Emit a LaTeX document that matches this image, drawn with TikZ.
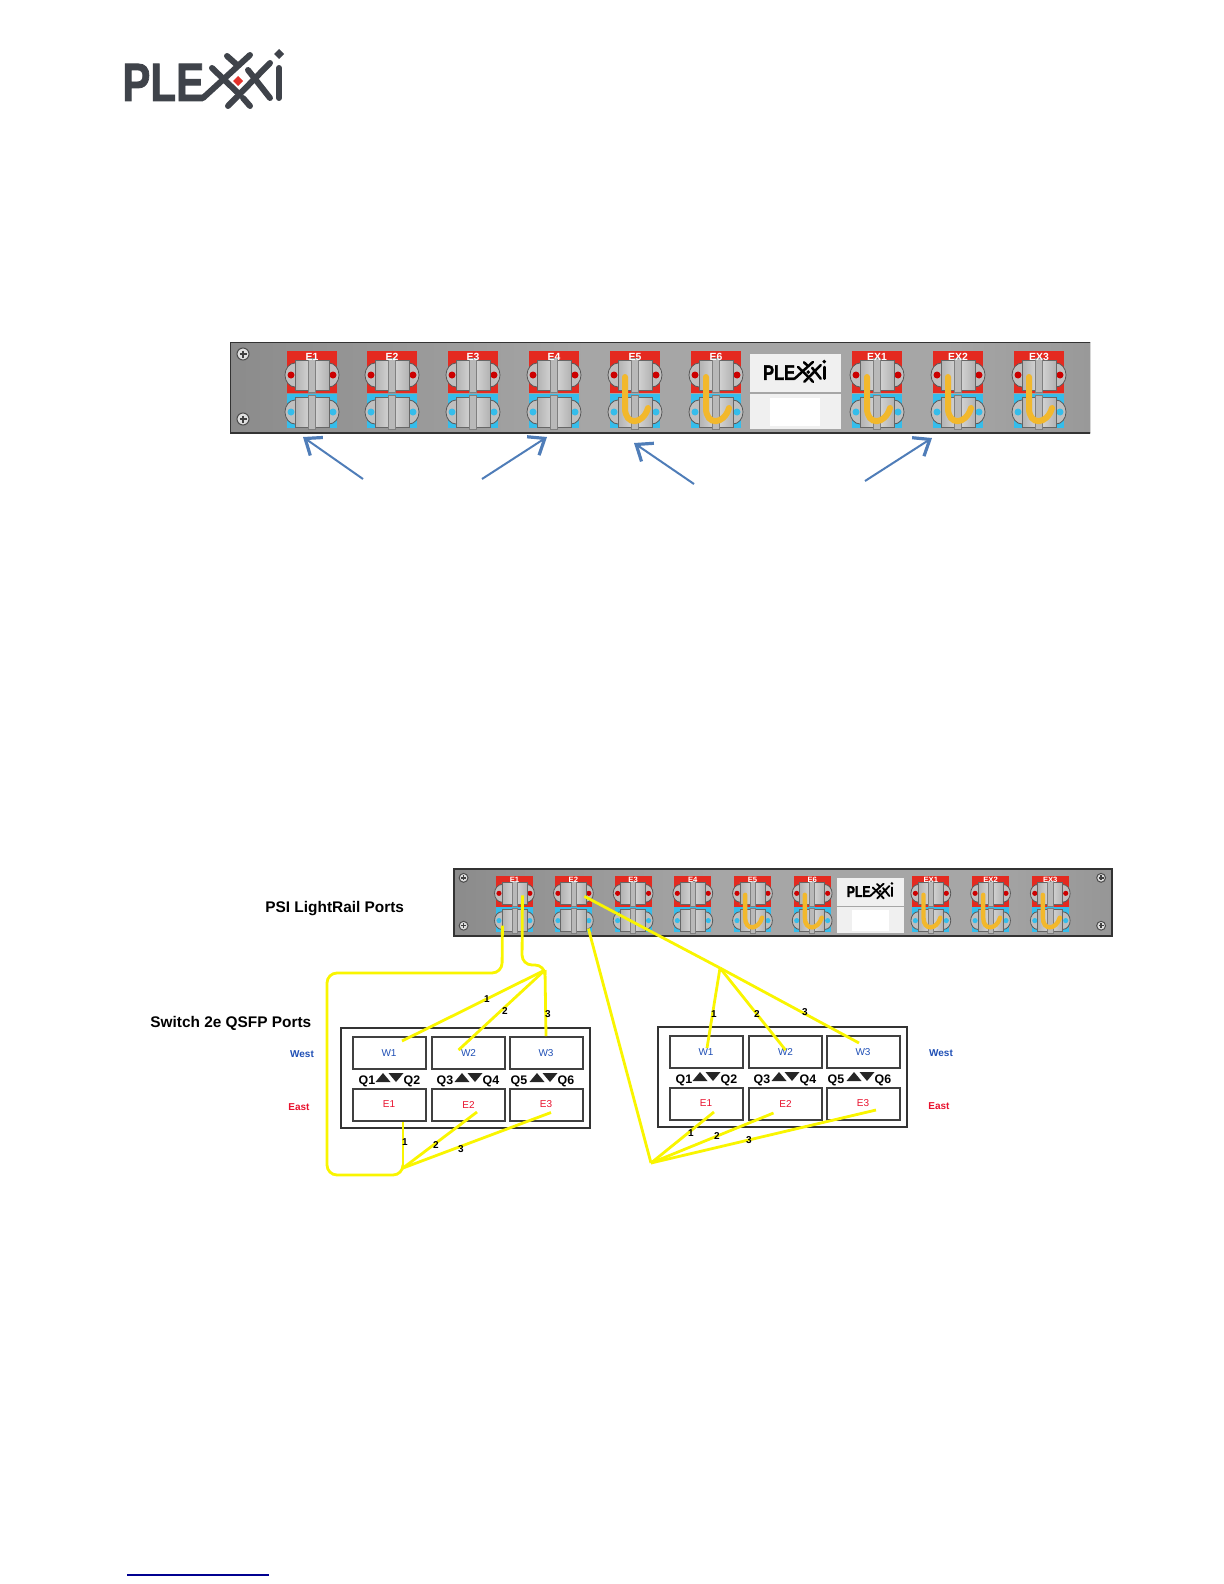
\documentclass[tikz,border=0pt]{standalone}
\usepackage{fontspec}
\setmainfont{Liberation Sans}
\newfontfamily\logofont[FakeBold=1.6]{Liberation Sans Bold}
\usetikzlibrary{arrows.meta}
\definecolor{logogray}{HTML}{3F434A}
\definecolor{logored}{HTML}{E5322B}
\definecolor{portred}{HTML}{E42A20}
\definecolor{portblue}{HTML}{35BDEB}
\definecolor{cableorange}{HTML}{F2B82C}
\definecolor{arrowblue}{HTML}{4F7DB8}
\definecolor{linkyellow}{HTML}{F9F500}
\definecolor{westblue}{HTML}{1F4FB5}
\definecolor{eastred}{HTML}{E8112D}
\definecolor{notenavy}{HTML}{000090}
\definecolor{railedge}{HTML}{5C5C5C}
\definecolor{railside}{HTML}{7A7A7A}
\definecolor{railmid}{HTML}{A6A6A6}
\definecolor{railend}{HTML}{6E6E6E}
\pgfdeclarehorizontalshading{railsteel}{100bp}{color(0bp)=(railedge); color(12bp)=(railside); color(45bp)=(railmid); color(65bp)=(railmid); color(100bp)=(railend)}
\tikzset{
    every pic/.style={transform shape},
    logostroke/.style={draw=logogray,line width=3pt,line cap=round},
    logomark/.style={fill=logored},
    logodot/.style={fill=logogray},
    logotext/.style={text=logogray},
    plexxilogo/.pic={
        \node[logotext,transform shape,xscale=0.78,anchor=base west,inner sep=0pt,font=\logofont\fontsize{27}{27}\selectfont] (word) at (0,51) {PLE};
        \draw[logostroke] (81,48)--(128,5);
        \draw[logostroke] (106,56)--(148,13);
        \draw[logostroke] (105,6)--(114,14);
        \draw[logostroke] (90,18)--(115,42);
        \draw[logostroke] (126,20)--(148,48);
        \draw[logostroke] (121,48)--(128,56);
        \draw[logostroke] (157,18)--(157,48);
        \fill[logomark] (116,26)--(121,31)--(116,36)--(111,31)--cycle;
        \fill[logodot] (157,-1)--(162,4)--(157,9)--(152,4)--cycle;
    },
    railscrew/.pic={
        \draw[fill=gray!25,draw=black!70,line width=0.5pt] (0,0) circle (6);
        \draw[black!75,line width=0.7pt] (-3.5,0)--(3.5,0) (0,-3.5)--(0,3.5);
    },
    fibersocket/.pic={
        \draw[fill=gray!50,draw=black!65,line width=0.4pt] (-17,0) ellipse [x radius=10,y radius=12];
        \draw[fill=gray!50,draw=black!65,line width=0.4pt] (17,0) ellipse [x radius=10,y radius=12];
        \fill[#1] (-21,0) circle (3.5);
        \fill[#1] (21,0) circle (3.5);
        \draw[left color=gray!60,right color=gray!60,middle color=gray!30,draw=black!60,line width=0.4pt] (-17,-15) rectangle (17,15);
        \draw[fill=gray!55,draw=black!50,line width=0.3pt] (-3.5,-17) rectangle (3.5,17);
    },
    lightrail/.pic={
        \fill[shading=railsteel,draw=black!80,line width=1pt] (0,0) rectangle (893,91);
        \foreach \sx/\sy in {13/12,13/77,878/12,878/77} {
            \pic at (\sx,\sy) {railscrew};
        }
        \foreach \px/\lab in {82/E1,162/E2,243/E3,324/E4,405/E5,486/E6,647/EX1,728/EX2,809/EX3} {
            \fill[portred] (\px-25,9) rectangle (\px+25,51);
            \fill[portblue] (\px-25,52) rectangle (\px+25,86);
            \pic at (\px,33) {fibersocket=red!80!black};
            \pic at (\px,70) {fibersocket=portblue};
            \coordinate (\lab up) at (\px,33);
            \coordinate (\lab low) at (\px,70);
            \node[portname] (\lab) at (\px,15) {\lab};
        }
        \foreach \px in {405,486,647,728,809} {
            \draw[cableorange,line width=#1pt,line cap=round] (\px-10,35)--(\px-10,66) .. controls (\px-10,84) and (\px+8,83) .. (\px+13,66);
        }
        \fill[gray!12] (520,12) rectangle (611,50);
        \fill[gray!12] (520,52) rectangle (611,87);
        \fill[white] (540,56) rectangle (590,84);
        \begin{scope}[shift={(533,18)},scale=0.39,logostroke/.append style={draw=black,line width=#1*0.42pt},logomark/.style={fill=black},logodot/.style={fill=black},logotext/.style={text=black}]
            \pic {plexxilogo};
        \end{scope}
    },
    portname/.style={transform shape,text=white,inner sep=0pt,font=\bfseries\fontsize{5.2}{6}\selectfont},
    portbox/.style={draw=black!75,line width=1pt,minimum width=36.5pt,minimum height=16pt,inner sep=0pt,font=\fontsize{5}{6}\selectfont},
    qlabel/.style={inner sep=0pt,font=\bfseries\fontsize{6.2}{7}\selectfont},
    sidelabel/.style={inner sep=0pt,font=\bfseries\fontsize{5}{6}\selectfont},
    headlabel/.style={inner sep=0pt,anchor=west,font=\bfseries\fontsize{7.7}{9}\selectfont},
    linknum/.style={inner sep=0pt,font=\bfseries\fontsize{5}{6}\selectfont},
    link/.style={linkyellow,line width=1.4pt},
    callout/.style={arrowblue,line width=1pt,-{Straight Barb[length=7pt,width=11pt,line width=1.6pt]}},
    qsfpbox/.pic={
        \draw[draw=black!80,line width=1pt] (341,1028) rectangle (590,1128);
        \foreach \qx/\qn in {389/1,468.5/2,546/3} {
            \node[portbox,text=westblue] (W\qn) at (\qx,1053) {\raisebox{-0.75pt}{W\qn}};
            \node[portbox,text=eastred] (E\qn) at (\qx,1104.5) {\raisebox{-0.75pt}{E\qn}};
        }
        \foreach \qx/\qn in {367/Q1,412/Q2,445/Q3,491/Q4,519/Q5,566/Q6} {
            \node[qlabel] (\qn) at (\qx,1081) {\qn};
        }
        \foreach \qx in {383,462,537} {
            \fill[black!85] (\qx-7.5,1082)--(\qx+7.5,1082)--(\qx,1073)--cycle;
            \fill[black!85] (\qx+5.5,1073)--(\qx+20.5,1073)--(\qx+13,1082)--cycle;
        }
    }
}
\begin{document}
\begin{tikzpicture}[x=0.5pt,y=-0.5pt]
    \useasboundingbox (0,0) rectangle (1224,1584);
    \pic at (122,50) {plexxilogo};

    \begin{scope}
        \clip (230,342) rectangle (1090,433);
        \pic (top) at (230,342) {lightrail=3};
    \end{scope}
    \coordinate (tail1) at (363,479);
    \coordinate (tip1) at (303,437);
    \coordinate (tail2) at (482,479);
    \coordinate (tip2) at (547,437);
    \coordinate (tail3) at (694,484);
    \coordinate (tip3) at (634,443);
    \coordinate (tail4) at (865,481);
    \coordinate (tip4) at (932,438);
    \foreach \an in {1,2,3,4} {
        \draw[callout] (tail\an)--(tip\an);
    }

    \pic[scale=0.737] (bot) at (454,869) {lightrail=2.2};
    \node[headlabel] (psi) at (265,909) {PSI LightRail Ports};
    \node[headlabel] (sw) at (150,1023) {Switch 2e QSFP Ports};

    \pic (left) at (0,0) {qsfpbox};
    \pic (right) at (317,-1) {qsfpbox};
    \node[sidelabel,text=westblue] (westL) at (302,1054) {West};
    \node[sidelabel,text=eastred] (eastL) at (299,1107) {East};
    \node[sidelabel,text=westblue] (westR) at (941,1053) {West};
    \node[sidelabel,text=eastred] (eastR) at (939,1106) {East};

    \coordinate (hubLW) at (545,970);
    \coordinate (hubLE) at (403,1168);
    \coordinate (hubRW) at (720,968);
    \coordinate (hubRE) at (651,1163);
    \draw[link,rounded corners=5pt] ([shift={(-12,5)}]botE1low)--(502,973)--(327,973)--(327,1175)--(403,1175)--(hubLE);
    \draw[link,rounded corners=5pt] ([shift={(8,2)}]botE1up)--(522,965)--(545,965)--(hubLW);
    \draw[link] (hubLW)--([shift={(13,-12)}]leftW1.center);
    \draw[link] (hubLW)--([shift={(-10,-3)}]leftW2.center);
    \draw[link] (hubLW)--(leftW3.north);
    \draw[link] (hubLE)--([xshift=7pt]leftE1.south);
    \draw[link] (hubLE)--([shift={(8.5,7.5)}]leftE2.center);
    \draw[link] (hubLE)--([shift={(5,8)}]leftE3.center);
    \draw[link] ([shift={(11,3)}]botE2up)--(hubRW);
    \draw[link] ([shift={(15,8)}]botE2low)--(hubRE);
    \draw[link] (hubRW)--([shift={(1,-4)}]rightW1.center);
    \draw[link] (hubRW)--([shift={(0,-2)}]rightW2.center);
    \draw[link] (hubRW)--([shift={(-4,-9)}]rightW3.center);
    \draw[link] (hubRE)--([shift={(8,8.5)}]rightE1.center);
    \draw[link] (hubRE)--([shift={(-12,9.5)}]rightE2.center);
    \draw[link] (hubRE)--([shift={(13,6.5)}]rightE3.center);

    \node[linknum] (lw1) at (487,999) {1};
    \node[linknum] (lw2) at (505,1011) {2};
    \node[linknum] (lw3) at (548,1014) {3};
    \node[linknum] (le1) at (405,1142) {1};
    \node[linknum] (le2) at (436,1145) {2};
    \node[linknum] (le3) at (461,1149) {3};
    \node[linknum] (rw1) at (714,1014) {1};
    \node[linknum] (rw2) at (757,1014) {2};
    \node[linknum] (rw3) at (805,1012) {3};
    \node[linknum] (re1) at (691,1133) {1};
    \node[linknum] (re2) at (717,1136) {2};
    \node[linknum] (re3) at (749,1140) {3};

    \draw[notenavy,line width=0.6pt] (127,1575)--(269,1575);
\end{tikzpicture}
\end{document}
